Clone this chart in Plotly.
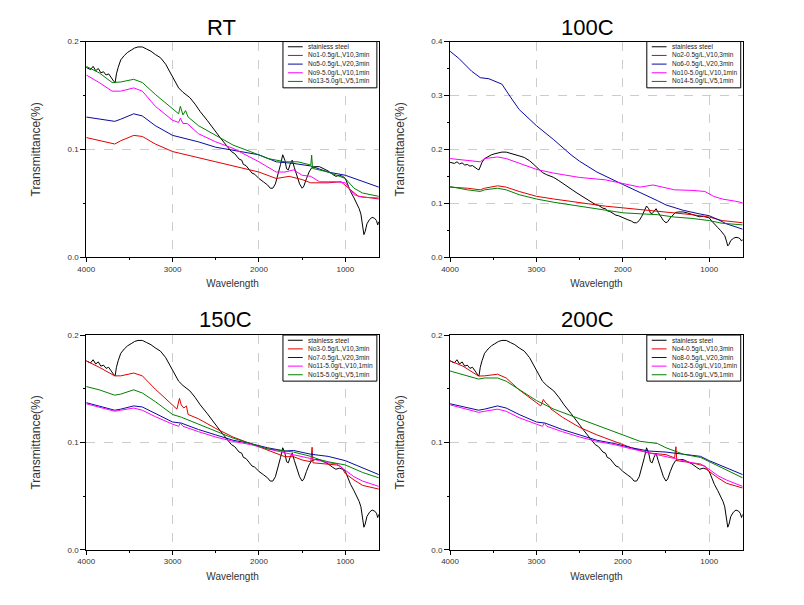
import plotly.graph_objects as go

# ---------------- data ----------------
panel_titles = ["RT", "100C", "150C", "200C"]
y_max = [0.2, 0.4, 0.2, 0.2]

legend_names = [
    ["stainless steel", "No1-0.5g/L,V10,3min", "No5-0.5g/L,V20,3min", "No9-5.0g/L,V10,1min", "No13-5.0g/L,V5,1min"],
    ["stainless steel", "No2-0.5g/L,V10,3min", "No6-0.5g/L,V20,3min", "No10-5.0g/L,V10,1min", "No14-5.0g/L,V5,1min"],
    ["stainless steel", "No3-0.5g/L,V10,3min", "No7-0.5g/L,V20,3min", "No11-5.0g/L,V10,1min", "No15-5.0g/L,V5,1min"],
    ["stainless steel", "No4-0.5g/L,V10,3min", "No8-0.5g/L,V20,3min", "No12-5.0g/L,V10,1min", "No16-5.0g/L,V5,1min"],
]
series_colors = ["#000000", "#e00000", "#0a0aa0", "#ff00ff", "#008000"]

ss_wl = [4000, 3950, 3920, 3890, 3860, 3830, 3800, 3770, 3740, 3710, 3680, 3665, 3650, 3630,
         3600, 3560, 3520, 3480, 3440, 3400, 3350, 3300, 3250, 3200, 3140, 3080, 3030, 2980,
         2930, 2880, 2800, 2740, 2680, 2600, 2530, 2450, 2380, 2320, 2280, 2230, 2200, 2180,
         2150, 2120, 2080, 2050, 2000, 1950, 1900, 1870, 1840, 1810, 1780, 1750, 1725, 1700,
         1680, 1660, 1640, 1615, 1590, 1560, 1530, 1500, 1480, 1450, 1420, 1390, 1350, 1300,
         1250, 1200, 1150, 1110, 1070, 1030, 1000, 970, 940, 900, 870, 840, 820, 800, 785,
         770, 750, 720, 690, 660, 640, 625, 612]
ss_t = [0.176, 0.174, 0.177, 0.173, 0.175, 0.171, 0.172, 0.169, 0.170, 0.166, 0.163, 0.162, 0.170, 0.176,
        0.183, 0.187, 0.190, 0.192, 0.194, 0.195, 0.195, 0.193, 0.191, 0.188, 0.185, 0.179, 0.172, 0.164,
        0.157, 0.153, 0.148, 0.142, 0.135, 0.127, 0.119, 0.111, 0.104, 0.098, 0.096, 0.091, 0.090, 0.086,
        0.085, 0.082, 0.078, 0.077, 0.073, 0.070, 0.067, 0.064, 0.064, 0.068, 0.076, 0.086, 0.095, 0.090,
        0.082, 0.081, 0.086, 0.090, 0.083, 0.075, 0.068, 0.064, 0.066, 0.073, 0.079, 0.083, 0.084, 0.084,
        0.082, 0.080, 0.077, 0.075, 0.076, 0.075, 0.073, 0.067, 0.061, 0.055, 0.050, 0.045, 0.040, 0.030, 0.021,
        0.024, 0.031, 0.035, 0.037, 0.036, 0.034, 0.030, 0.033]

# RT
rt_no1_wl = [4000, 3850, 3670, 3600, 3450, 3350, 3200, 3000, 2900, 2700, 2500, 2000, 1800, 1650, 1500, 1400, 1200, 1050, 950, 850, 700, 612]
rt_no1_t = [0.111, 0.108, 0.105, 0.108, 0.113, 0.112, 0.105, 0.098, 0.096, 0.092, 0.0885, 0.079, 0.073, 0.075, 0.072, 0.069, 0.069, 0.070, 0.063, 0.0565, 0.055, 0.054]
rt_no5_wl = [4000, 3850, 3670, 3600, 3450, 3350, 3200, 3000, 2900, 2700, 2500, 2300, 2000, 1800, 1600, 1400, 1200, 1000, 800, 612]
rt_no5_t = [0.130, 0.128, 0.126, 0.128, 0.133, 0.131, 0.122, 0.113, 0.111, 0.107, 0.102, 0.099, 0.095, 0.0885, 0.087, 0.0846, 0.079, 0.076, 0.070, 0.065]
rt_no9_wl = [4000, 3850, 3700, 3600, 3450, 3350, 3200, 3000, 2930, 2910, 2880, 2830, 2700, 2500, 2300, 2000, 1800, 1700, 1600, 1500, 1400, 1300, 1100, 1000, 900, 800, 612]
rt_no9_t = [0.169, 0.162, 0.154, 0.154, 0.157, 0.154, 0.140, 0.127, 0.125, 0.129, 0.124, 0.124, 0.1145, 0.107, 0.101, 0.0885, 0.079, 0.079, 0.081, 0.076, 0.075, 0.070, 0.070, 0.069, 0.058, 0.0556, 0.055]
rt_no13_wl = [4000, 3850, 3700, 3600, 3450, 3350, 3200, 3000, 2930, 2910, 2880, 2850, 2820, 2700, 2500, 2300, 2100, 1900, 1700, 1550, 1400, 1390, 1380, 1200, 1100, 1000, 900, 800, 612]
rt_no13_t = [0.177, 0.171, 0.162, 0.1625, 0.165, 0.162, 0.151, 0.137, 0.133, 0.140, 0.132, 0.136, 0.130, 0.122, 0.113, 0.104, 0.098, 0.0916, 0.0885, 0.0885, 0.0855, 0.0947, 0.0824, 0.079, 0.076, 0.073, 0.064, 0.0595, 0.0565]

# 100C
c100_no2_wl = [4000, 3800, 3650, 3600, 3450, 3350, 3200, 3000, 2800, 2500, 2200, 2000, 1800, 1600, 1400, 1200, 1000, 850, 612]
c100_no2_t = [0.130, 0.128, 0.125, 0.128, 0.1325, 0.130, 0.122, 0.113, 0.108, 0.101, 0.0947, 0.0916, 0.0885, 0.0855, 0.0824, 0.079, 0.0745, 0.068, 0.064]
c100_no6_wl = [4000, 3900, 3750, 3650, 3550, 3450, 3400, 3300, 3200, 3000, 2800, 2600, 2500, 2300, 2100, 2000, 1800, 1700, 1650, 1600, 1500, 1300, 1100, 1000, 900, 800, 612]
c100_no6_t = [0.382, 0.369, 0.345, 0.333, 0.331, 0.325, 0.321, 0.297, 0.274, 0.244, 0.218, 0.190, 0.178, 0.158, 0.142, 0.135, 0.120, 0.113, 0.108, 0.105, 0.097, 0.087, 0.080, 0.077, 0.070, 0.062, 0.052]
c100_no10_wl = [4000, 3800, 3650, 3600, 3450, 3350, 3200, 3000, 2800, 2500, 2200, 2000, 1800, 1650, 1500, 1400, 1200, 1050, 950, 850, 700, 612]
c100_no10_t = [0.183, 0.180, 0.177, 0.183, 0.186, 0.183, 0.174, 0.163, 0.156, 0.148, 0.1435, 0.137, 0.130, 0.134, 0.128, 0.125, 0.124, 0.122, 0.113, 0.108, 0.104, 0.101]
c100_no14_wl = [4000, 3800, 3650, 3600, 3450, 3350, 3200, 3000, 2800, 2500, 2200, 2000, 1800, 1600, 1400, 1200, 1000, 850, 612]
c100_no14_t = [0.131, 0.125, 0.122, 0.125, 0.128, 0.125, 0.116, 0.108, 0.102, 0.0947, 0.087, 0.0824, 0.0806, 0.079, 0.0745, 0.072, 0.068, 0.063, 0.060]

# 150C
c150_no3_wl = [4000, 3850, 3670, 3600, 3450, 3350, 3200, 3000, 2950, 2920, 2900, 2870, 2840, 2820, 2700, 2500, 2300, 2100, 1900, 1700, 1600, 1500, 1400, 1385, 1375, 1300, 1100, 1050, 1000, 900, 800, 612]
c150_no3_t = [0.176, 0.170, 0.162, 0.162, 0.1646, 0.162, 0.1496, 0.135, 0.131, 0.141, 0.135, 0.132, 0.134, 0.126, 0.122, 0.113, 0.105, 0.099, 0.0925, 0.0867, 0.0867, 0.0836, 0.082, 0.0955, 0.081, 0.0805, 0.079, 0.0775, 0.071, 0.065, 0.060, 0.0565]
c150_no7_wl = [4000, 3850, 3670, 3600, 3450, 3350, 3200, 3000, 2900, 2700, 2500, 2300, 2100, 1900, 1700, 1600, 1400, 1200, 1000, 800, 612]
c150_no7_t = [0.137, 0.134, 0.130, 0.131, 0.134, 0.133, 0.127, 0.119, 0.118, 0.112, 0.107, 0.102, 0.099, 0.095, 0.092, 0.0925, 0.089, 0.087, 0.083, 0.076, 0.070]
c150_no11_wl = [4000, 3850, 3670, 3600, 3450, 3350, 3200, 3000, 2930, 2910, 2880, 2700, 2500, 2300, 2100, 1900, 1700, 1600, 1400, 1200, 1100, 1000, 900, 800, 612]
c150_no11_t = [0.136, 0.133, 0.129, 0.130, 0.132, 0.130, 0.124, 0.117, 0.115, 0.118, 0.115, 0.110, 0.105, 0.101, 0.098, 0.094, 0.090, 0.0885, 0.085, 0.081, 0.080, 0.074, 0.068, 0.064, 0.059]
c150_no15_wl = [4000, 3850, 3670, 3600, 3450, 3350, 3200, 3000, 2900, 2700, 2500, 2300, 2100, 1900, 1700, 1600, 1400, 1300, 1200, 1000, 800, 612]
c150_no15_t = [0.152, 0.149, 0.144, 0.145, 0.149, 0.146, 0.138, 0.126, 0.1235, 0.117, 0.110, 0.104, 0.099, 0.094, 0.092, 0.091, 0.087, 0.084, 0.082, 0.079, 0.072, 0.067]

# 200C
c200_no4_wl = [4000, 3850, 3670, 3600, 3450, 3350, 3200, 3000, 2950, 2920, 2900, 2850, 2830, 2700, 2500, 2300, 2100, 1900, 1700, 1500, 1400, 1385, 1375, 1200, 1050, 1000, 900, 800, 612]
c200_no4_t = [0.176, 0.171, 0.1618, 0.162, 0.1635, 0.160, 0.149, 0.137, 0.134, 0.140, 0.1375, 0.134, 0.131, 0.1235, 0.114, 0.107, 0.101, 0.095, 0.0902, 0.0886, 0.0856, 0.096, 0.083, 0.081, 0.078, 0.073, 0.067, 0.062, 0.0575]
c200_no8_wl = [4000, 3850, 3670, 3600, 3450, 3350, 3200, 3000, 2900, 2700, 2500, 2300, 2100, 1900, 1700, 1500, 1300, 1100, 1000, 800, 612]
c200_no8_t = [0.136, 0.133, 0.130, 0.131, 0.134, 0.132, 0.126, 0.119, 0.118, 0.112, 0.107, 0.102, 0.099, 0.095, 0.092, 0.091, 0.089, 0.087, 0.083, 0.076, 0.070]
c200_no12_wl = [4000, 3850, 3670, 3600, 3450, 3350, 3200, 3000, 2930, 2910, 2880, 2700, 2500, 2300, 2100, 1900, 1700, 1600, 1400, 1200, 1100, 1000, 900, 800, 612]
c200_no12_t = [0.135, 0.132, 0.128, 0.129, 0.131, 0.129, 0.123, 0.117, 0.115, 0.118, 0.115, 0.110, 0.105, 0.101, 0.098, 0.094, 0.090, 0.0885, 0.085, 0.081, 0.080, 0.075, 0.069, 0.065, 0.059]
c200_no16_wl = [4000, 3850, 3670, 3600, 3450, 3350, 3200, 3000, 2800, 2600, 2400, 2200, 2000, 1800, 1700, 1600, 1500, 1400, 1300, 1100, 1000, 800, 612]
c200_no16_t = [0.1665, 0.163, 0.159, 0.160, 0.160, 0.157, 0.149, 0.139, 0.131, 0.125, 0.119, 0.113, 0.107, 0.101, 0.100, 0.099, 0.095, 0.092, 0.089, 0.086, 0.082, 0.074, 0.067]

panel_series = [
    [(ss_wl, ss_t), (rt_no1_wl, rt_no1_t), (rt_no5_wl, rt_no5_t), (rt_no9_wl, rt_no9_t), (rt_no13_wl, rt_no13_t)],
    [(ss_wl, ss_t), (c100_no2_wl, c100_no2_t), (c100_no6_wl, c100_no6_t), (c100_no10_wl, c100_no10_t), (c100_no14_wl, c100_no14_t)],
    [(ss_wl, ss_t), (c150_no3_wl, c150_no3_t), (c150_no7_wl, c150_no7_t), (c150_no11_wl, c150_no11_t), (c150_no15_wl, c150_no15_t)],
    [(ss_wl, ss_t), (c200_no4_wl, c200_no4_t), (c200_no8_wl, c200_no8_t), (c200_no12_wl, c200_no12_t), (c200_no16_wl, c200_no16_t)],
]

# ---------------- layout ----------------
OFF = 8  # default page body margin
W, H = 804 - OFF, 605 - OFF


def px_x(p):
    return (p - OFF) / W


def px_y(p):
    return 1 - (p - OFF) / H


x_doms = [[px_x(78), px_x(374)], [px_x(446), px_x(742)], [px_x(78), px_x(374)], [px_x(446), px_x(742)]]
y_doms = [[px_y(257), px_y(38)], [px_y(257), px_y(38)], [px_y(554), px_y(336)], [px_y(554), px_y(336)]]
title_pos = [(215, 24), (585, 24), (219, 320), (585, 320)]

fig = go.Figure()
layout = dict(
    width=W, height=H, margin=dict(l=0, r=0, t=0, b=0),
    paper_bgcolor="white", plot_bgcolor="white", showlegend=False,
    font=dict(family="Liberation Sans, Arial, sans-serif", color="#222"),
)
shapes, annotations = [], []

for k in range(4):
    n = k + 1
    xa = "x" if n == 1 else f"x{n}"
    ya = "y" if n == 1 else f"y{n}"
    for (wl, t), col in zip(panel_series[k], series_colors):
        fig.add_trace(go.Scatter(x=wl, y=t, mode="lines", xaxis=xa, yaxis=ya,
                                 line=dict(color=col, width=1), hoverinfo="skip"))
    layout[f"xaxis{'' if n == 1 else n}"] = dict(
        domain=x_doms[k], anchor=ya, range=[4000, 612], tick0=0, dtick=1000,
        ticks="outside", ticklen=4, tickcolor="black", showline=True, mirror=True,
        linecolor="black", linewidth=1, showgrid=True, gridcolor="#cccccc", griddash="dash",
        gridwidth=1, zeroline=False, tickfont=dict(size=8, color="#333"),
        minor=dict(dtick=500, ticklen=2, ticks="outside", tickcolor="black", showgrid=False),
        title=dict(text="Wavelength", font=dict(size=10, color="#333"), standoff=7),
    )
    layout[f"yaxis{'' if n == 1 else n}"] = dict(
        domain=y_doms[k], anchor=xa, range=[0, y_max[k]], tick0=0, dtick=0.1, tickformat=".1f",
        ticks="outside", ticklen=5, tickcolor="black", showline=True, mirror=True,
        linecolor="black", linewidth=1, showgrid=True, gridcolor="#cccccc", griddash="dash",
        gridwidth=1, zeroline=False, tickfont=dict(size=8, color="#333"),
        minor=dict(dtick=0.05, ticklen=2, ticks="outside", tickcolor="black", showgrid=False),
        title=dict(text="Transmittance(%)", font=dict(size=12, color="#333"), standoff=24),
    )
    # panel title
    tx, ty = title_pos[k]
    annotations.append(dict(text=panel_titles[k], x=px_x(tx), y=px_y(ty), xref="paper", yref="paper",
                            xanchor="center", yanchor="middle", showarrow=False,
                            font=dict(size=22, color="black")))
    # custom compact legend (Origin style)
    xr, yr = f"{xa} domain", f"{ya} domain"
    pw, ph = 296.0, 219.0
    bx0, bx1 = 1 - 97 / pw, 1 - 2 / pw
    by1, by0 = 1.0, 1 - 47 / ph
    shapes.append(dict(type="rect", xref=xr, yref=yr, x0=bx0, x1=bx1, y0=by0, y1=by1,
                       line=dict(color="black", width=1), fillcolor="white", layer="above"))
    for i, (name, col) in enumerate(zip(legend_names[k], series_colors)):
        yy = 1 - (5.3 + 8.8 * i) / ph
        shapes.append(dict(type="line", xref=xr, yref=yr, x0=bx0 + 5 / pw, x1=bx0 + 20 / pw,
                           y0=yy, y1=yy, line=dict(color=col, width=1), layer="above"))
        annotations.append(dict(text=name, xref=xr, yref=yr, x=bx0 + 23 / pw, y=yy,
                                xanchor="left", yanchor="middle", showarrow=False,
                                font=dict(size=6.5, color="#222")))

layout["shapes"] = shapes
layout["annotations"] = annotations
fig.update_layout(**layout)
fig.write_html("out.html")
